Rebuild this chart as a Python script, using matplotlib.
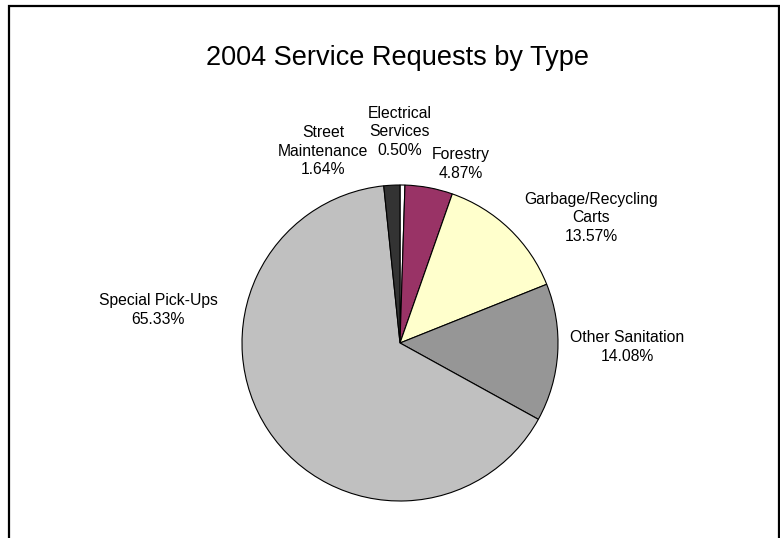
import matplotlib.pyplot as plt
from matplotlib.patches import Rectangle

plt.rcParams['font.family'] = ['Liberation Sans', 'DejaVu Sans']

# service request types, clockwise from 12 o'clock
types = ['Electrical\nServices', 'Forestry', 'Garbage/Recycling\nCarts',
         'Other Sanitation', 'Special Pick-Ups', 'Street\nMaintenance']
shares = [0.50, 4.87, 13.57, 14.08, 65.33, 1.64]
colors = ['#FFFFFF', '#993366', '#FFFFCC', '#969696', '#C0C0C0', '#333333']

# where each label sits (pixel coords, y measured from the top)
label_pos = [(400, 132), (461, 164), (591, 218), (627, 347), (158, 310), (323, 151)]

W, H = 780, 538
fig = plt.figure(figsize=(W / 100, H / 100), dpi=100)
ax = fig.add_axes([0, 0, 1, 1])

ax.pie(shares, colors=colors, startangle=90, counterclock=False,
       center=(400, H - 343), radius=158, frame=True,
       wedgeprops=dict(edgecolor='black', linewidth=0.8))
ax.set_xlim(0, W)
ax.set_ylim(0, H)
ax.axis('off')

for name, val, (x, y) in zip(types, shares, label_pos):
    ax.text(x, H - y, f'{name}\n{val:.2f}%', ha='center', va='center',
            fontsize=11.3, linespacing=1.27)

ax.text(397, H - 58, '2004 Service Requests by Type', ha='center', va='center',
        fontsize=19.5)

# outer border, runs off the bottom edge
ax.add_patch(Rectangle((9, -20), 770, H - 6 + 20, fill=False,
                       edgecolor='black', linewidth=1.6, clip_on=False))

fig.savefig('out.png', dpi=100)
